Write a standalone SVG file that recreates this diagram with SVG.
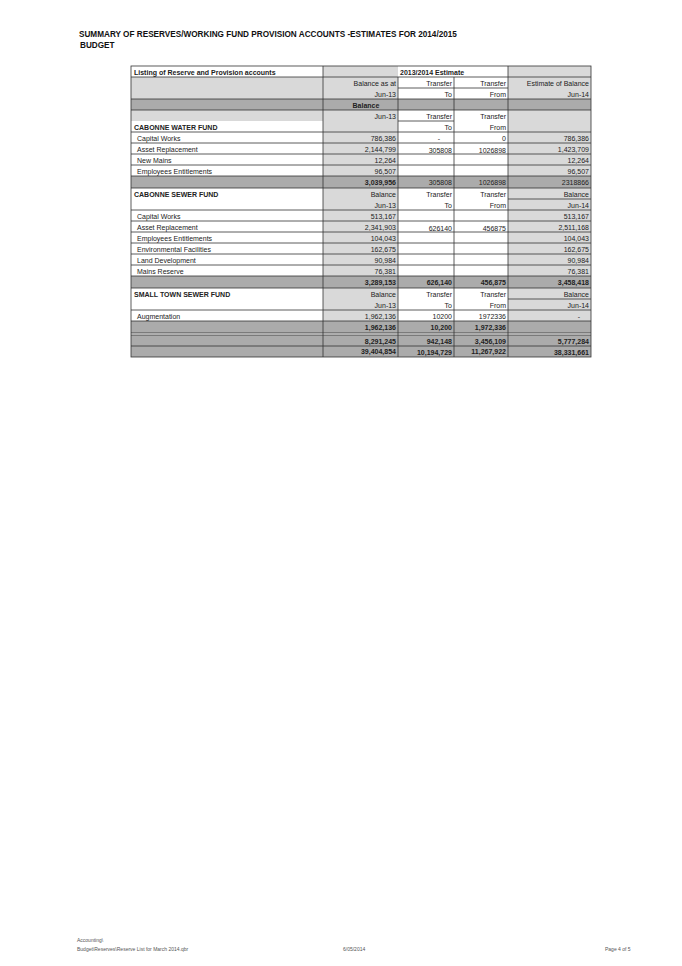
<svg xmlns="http://www.w3.org/2000/svg" width="682" height="966" viewBox="0 0 682 966">
<style>
text{font-family:"Liberation Sans",Arial,sans-serif;font-size:7px;fill:#222}
.b{font-weight:bold}
.r{text-anchor:end}
.t{font-size:8.2px;font-weight:bold;fill:#111}
.f{font-size:5px;fill:#555}
.lg{fill:#d9d9d9}
.dg{fill:#ababab}
.w{fill:#fff}
.ln{stroke:#333;stroke-width:0.8;fill:none}
</style>
<rect width="682" height="966" fill="#fff"/>
<text class="t" x="79" y="37">SUMMARY OF RESERVES/WORKING FUND PROVISION ACCOUNTS -ESTIMATES FOR 2014/2015</text>
<text class="t" x="80" y="48">BUDGET</text>
<g id="shading">
<rect class="lg" x="131" y="77" width="192" height="22"/>
<rect class="lg" x="323" y="66" width="75" height="11"/>
<rect class="lg" x="508" y="66" width="83" height="11"/>
<rect class="lg" x="323" y="77" width="75" height="22"/>
<rect class="lg" x="508" y="77" width="83" height="22"/>
<rect class="dg" x="131" y="99" width="460" height="11"/>
<rect class="lg" x="131" y="110" width="192" height="11"/>
<rect class="lg" x="323" y="110" width="75" height="66"/>
<rect class="lg" x="508" y="110" width="83" height="66"/>
<rect class="dg" x="131" y="176" width="460" height="12"/>
<rect class="lg" x="323" y="188" width="75" height="88"/>
<rect class="lg" x="508" y="188" width="83" height="88"/>
<rect class="dg" x="131" y="276" width="460" height="12"/>
<rect class="lg" x="323" y="288" width="75" height="33"/>
<rect class="lg" x="508" y="288" width="83" height="33"/>
<rect class="dg" x="131" y="321" width="460" height="12"/>
<rect class="dg" x="131" y="335" width="460" height="22"/>
</g>
<g id="grid">
<rect class="ln" x="131" y="66" width="460" height="291" stroke-width="1.2"/>
<path class="ln" d="M323 66V357M398 77V357M454 77V357M508 66V357"/>
<path class="ln" d="M131 77H591M398 88H508M131 99H591M131 110H591M398 121H454M131 132H591M131 143H591M131 154H591M131 165H591M131 176H591M131 188H591M508 199H591M131 210H591M131 221H591M131 232H591M131 243H591M131 254H591M131 265H591M131 276H591M131 288H591M508 299H591M131 310H591M131 321H591M131 333H591M131 335H591M131 346H591"/>
</g>
<g id="header">
<text class="b" x="134" y="74.5">Listing of Reserve and Provision accounts</text>
<text class="b" x="400" y="74.5">2013/2014 Estimate</text>
<text class="r" x="396" y="85.5">Balance  as at</text><text class="r" x="452" y="85.5">Transfer</text><text class="r" x="506" y="85.5">Transfer</text><text class="r" x="589" y="85.5">Estimate of Balance</text>
<text class="r" x="396" y="96.5">Jun-13</text><text class="r" x="452" y="96.5">To</text><text class="r" x="506" y="96.5">From</text><text class="r" x="589" y="96.5">Jun-14</text>
<text class="b" x="366" y="107.5" text-anchor="middle">Balance</text>
<text class="r" x="396" y="118.5">Jun-13</text><text class="r" x="452" y="118.5">Transfer</text><text class="r" x="506" y="118.5">Transfer</text>
</g>
<g id="water">
<text class="b" x="134" y="129.5">CABONNE WATER FUND</text><text class="r" x="452" y="129.5">To</text><text class="r" x="506" y="129.5">From</text>
<text x="137" y="140.5">Capital Works</text><text class="r" x="396" y="140.5">786,386</text><text class="r" x="440" y="140.5">-</text><text class="r" x="506" y="140.5">0</text><text class="r" x="589" y="140.5">786,386</text>
<text x="137" y="151.5">Asset Replacement</text><text class="r" x="396" y="151.5">2,144,799</text><text class="r" x="452" y="152.5">305808</text><text class="r" x="506" y="152.5">1026898</text><text class="r" x="589" y="151.5">1,423,709</text>
<text x="137" y="162.5">New Mains</text><text class="r" x="396" y="162.5">12,264</text><text class="r" x="589" y="162.5">12,264</text>
<text x="137" y="173.5">Employees Entitlements</text><text class="r" x="396" y="173.5">96,507</text><text class="r" x="589" y="173.5">96,507</text>
<text class="r b" x="396" y="185">3,039,956</text><text class="r" x="452" y="185">305808</text><text class="r" x="506" y="185">1026898</text><text class="r" x="589" y="185">2318866</text>
</g>
<g id="sewer">
<text class="b" x="134" y="196.5">CABONNE SEWER FUND</text><text class="r" x="396" y="196.5">Balance</text><text class="r" x="452" y="196.5">Transfer</text><text class="r" x="506" y="196.5">Transfer</text><text class="r" x="589" y="196.5">Balance</text>
<text class="r" x="396" y="207.5">Jun-13</text><text class="r" x="452" y="207.5">To</text><text class="r" x="506" y="207.5">From</text><text class="r" x="589" y="207.5">Jun-14</text>
<text x="137" y="218.5">Capital Works</text><text class="r" x="396" y="218.5">513,167</text><text class="r" x="589" y="218.5">513,167</text>
<text x="137" y="229.5">Asset Replacement</text><text class="r" x="396" y="229.5">2,341,903</text><text class="r" x="452" y="230.5">626140</text><text class="r" x="506" y="230.5">456875</text><text class="r" x="589" y="229.5">2,511,168</text>
<text x="137" y="240.5">Employees  Entitlements</text><text class="r" x="396" y="240.5">104,043</text><text class="r" x="589" y="240.5">104,043</text>
<text x="137" y="251.5">Environmental Facilities</text><text class="r" x="396" y="251.5">162,675</text><text class="r" x="589" y="251.5">162,675</text>
<text x="137" y="262.5">Land Development</text><text class="r" x="396" y="262.5">90,984</text><text class="r" x="589" y="262.5">90,984</text>
<text x="137" y="273.5">Mains Reserve</text><text class="r" x="396" y="273.5">76,381</text><text class="r" x="589" y="273.5">76,381</text>
<text class="r b" x="396" y="285">3,289,153</text><text class="r b" x="452" y="285">626,140</text><text class="r b" x="506" y="285">456,875</text><text class="r b" x="589" y="285">3,458,418</text>
</g>
<g id="smalltown">
<text class="b" x="134" y="296.5">SMALL TOWN SEWER FUND</text><text class="r" x="396" y="296.5">Balance</text><text class="r" x="452" y="296.5">Transfer</text><text class="r" x="506" y="296.5">Transfer</text><text class="r" x="589" y="296.5">Balance</text>
<text class="r" x="396" y="307.5">Jun-13</text><text class="r" x="452" y="307.5">To</text><text class="r" x="506" y="307.5">From</text><text class="r" x="589" y="307.5">Jun-14</text>
<text x="137" y="318.5">Augmentation</text><text class="r" x="396" y="318.5">1,962,136</text><text class="r" x="452" y="318.5">10200</text><text class="r" x="506" y="318.5">1972336</text><text class="r" x="580" y="318.5">-</text>
<text class="r b" x="396" y="330">1,962,136</text><text class="r b" x="452" y="330">10,200</text><text class="r b" x="506" y="330">1,972,336</text>
</g>
<g id="totals">
<text class="r b" x="396" y="343.5">8,291,245</text><text class="r b" x="452" y="343.5">942,148</text><text class="r b" x="506" y="343.5">3,456,109</text><text class="r b" x="589" y="344">5,777,284</text>
<text class="r b" x="396" y="354">39,404,854</text><text class="r b" x="452" y="355">10,194,729</text><text class="r b" x="506" y="354">11,267,922</text><text class="r b" x="589" y="355">38,331,661</text>
</g>
<g id="footer">
<text class="f" x="77" y="942">Accounting\</text>
<text class="f" x="77" y="951">Budget\Reserves\Reserve List for March 2014.qbr</text>
<text class="f" x="343" y="951">6/05/2014</text>
<text class="f" x="605" y="951">Page 4 of 5</text>
</g>
</svg>
